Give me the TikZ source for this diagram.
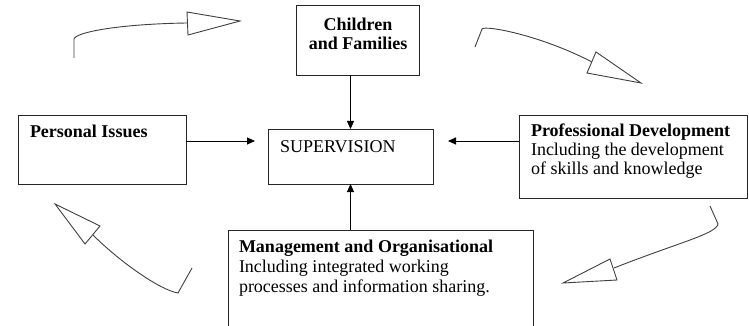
\documentclass[tikz,border=0pt]{standalone}
\usepackage{fontspec}
\setmainfont{Liberation Serif}
\usetikzlibrary{arrows.meta}
\begin{document}
\begin{tikzpicture}[x=1pt,y=-1pt,
  box/.style={draw=black!85,line width=0.9pt,inner sep=0pt,outer sep=0pt},
  txt/.style={inner sep=0pt,outer sep=0pt,font=\fontsize{18}{19.4}\selectfont},
  conn/.style={draw=black,line width=0.9pt,-{Triangle[length=8pt,width=7pt]}},
  shaft/.style={draw=black!75,line width=0.9pt},
  hollow/.style={draw=black!75,line width=0.9pt,fill=white,line join=miter}]
\useasboundingbox (0,0) rectangle (749,326);
\fill[white] (0,0) rectangle (749,326);
\clip (0,0) rectangle (749,326);
% boxes
\node[box,minimum width=123pt,minimum height=70pt] (ch) at (357.5,40) {};
\node[box,minimum width=165pt,minimum height=55pt] (sup) at (350.5,156.5) {};
\node[box,minimum width=168pt,minimum height=69pt] (pers) at (102,149.5) {};
\node[box,minimum width=228pt,minimum height=83pt] (prof) at (633,156.5) {};
\node[box,minimum width=305pt,minimum height=120pt] (mgmt) at (380.5,290) {};
% texts
\node[txt,anchor=base] (ch1) at (358,31) {\textbf{Children}};
\node[txt,anchor=base] (ch2) at (358,50) {\textbf{and Families}};
\node[txt,anchor=base west] (sup1) at (280,152) {SUPERVISION};
\node[txt,anchor=base west] (pers1) at (30,138) {\textbf{Personal Issues}};
\node[txt,anchor=base west] (prof1) at (531,136) {\textbf{Professional Development}};
\node[txt,anchor=base west] (prof2) at (531,155) {Including the development};
\node[txt,anchor=base west] (prof3) at (531,174) {of skills and knowledge};
\node[txt,anchor=base west] (mg1) at (239,252) {\textbf{Management and Organisational}};
\node[txt,anchor=base west] (mg2) at (239,272) {Including integrated working};
\node[txt,anchor=base west] (mg3) at (239,292) {processes and information sharing.};
% connectors
\coordinate (pe) at (255,141);
\coordinate (pw) at (448,141);
\draw[conn] (sup.north |- ch.south) -- (sup.north);
\draw[conn] (sup.south |- mgmt.north) -- (sup.south);
\draw[conn] (pers.east |- pe) -- (pe);
\draw[conn] (prof.west |- pw) -- (pw);
% hollow curved arrows
\coordinate (a0) at (74,58);
\coordinate (a1) at (74,39);
\coordinate (a2) at (187,23);
\draw[shaft] (a0) -- (a1) .. controls (76,32) and (120,24) .. (a2);
\draw[hollow] (187,12) -- (240,21) -- (188,35) -- cycle;
\coordinate (b0) at (475,47);
\coordinate (b1) at (482,29);
\coordinate (b2) at (592,62);
\draw[shaft] (b0) -- (b1) .. controls (485,25) and (540,35) .. (b2);
\draw[hollow] (596,52) -- (641,83) -- (587,73) -- cycle;
\coordinate (c0) at (710,206);
\coordinate (c1) at (718,224);
\coordinate (c2) at (614,268);
\draw[shaft] (c0) -- (c1) .. controls (716,234) and (680,242) .. (c2);
\draw[hollow] (610,259) -- (563,283) -- (617,280) -- cycle;
\coordinate (d0) at (192,268);
\coordinate (d1) at (178,293);
\coordinate (d2) at (93,235);
\draw[shaft] (d0) -- (d1) .. controls (160,290) and (120,262) .. (d2);
\draw[hollow] (100,226) -- (55,204) -- (85,244) -- cycle;
\end{tikzpicture}
\end{document}
